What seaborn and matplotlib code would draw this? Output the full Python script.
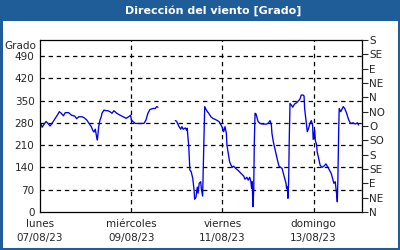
import numpy as np
import pandas as pd
import matplotlib
matplotlib.use("Agg")
import matplotlib.pyplot as plt
from matplotlib.patches import Rectangle
import seaborn as sns

# ---- data (hours since 07/08/23 00:00, wind direction in degrees) ----
seg1_hours = [0.4, 1.1, 2.1, 3.2, 4.2, 5.3, 6.3, 7.7, 9.1, 10.2, 11.2, 12.3, 13.3, 15.1, 16.5,
              18.3, 19.3, 20.4, 22.1, 23.2, 24.6, 25.6, 27.0, 27.7, 28.4, 29.1, 29.8, 30.2,
              30.9, 31.6, 32.3, 32.6, 33.7, 34.7, 35.8, 36.8, 37.9, 38.9, 40.4, 42.1, 43.8,
              45.3, 46.7, 47.7, 48.1, 49.1, 50.2, 52.6, 54.7, 55.8, 56.8, 57.9, 59.6, 60.7,
              61.4, 62.1]
seg1_values = [278, 266, 275, 284, 278, 270, 278, 291, 304, 315, 310, 302, 312, 312, 304,
               301, 293, 299, 299, 296, 289, 280, 268, 257, 251, 260, 236, 226,
               268, 289, 300, 310, 320, 318, 318, 315, 310, 318, 310, 304, 299,
               294, 299, 304, 289, 283, 278, 278, 278, 289, 310, 322, 325, 325,
               331, 329]

seg2_hours = [71.2, 71.9, 73.0, 74.1, 74.7, 75.4, 76.5, 77.2, 77.5, 78.3, 78.9, 79.6, 80.4,
              81.1, 81.4, 82.1, 82.8, 83.2, 83.8, 84.6, 84.9, 85.6, 85.9, 86.3, 86.7, 87.4,
              88.1, 88.8, 90.0, 91.0, 92.8, 94.2, 95.3, 95.9, 96.7, 97.4, 98.1, 98.4, 99.1,
              99.8, 100.5, 101.2, 101.9, 103.0, 104.4, 105.8, 107.2, 107.9, 108.9, 109.6,
              110.4, 111.0, 111.4, 111.7, 112.1, 112.5, 112.8, 113.2, 113.7, 114.8, 115.8,
              117.5, 119.3, 120.3, 121.1, 121.8, 122.1, 122.8, 124.0, 125.0, 125.8, 126.7,
              127.4, 128.1, 128.8, 129.5, 129.8, 130.2, 130.5, 130.9, 131.2, 131.6, 132.3,
              133.0, 134.0, 135.1, 136.2, 136.8, 137.5, 138.6, 139.0, 139.3, 140.0, 140.7,
              141.4, 142.1, 142.8, 143.5, 143.8, 144.6, 144.9, 145.6, 145.9, 146.7, 147.4,
              148.4, 149.5, 150.5, 151.6, 152.3, 153.3, 154.1, 154.7, 155.4, 155.8, 156.2,
              156.5, 156.8, 157.2, 157.5, 158.3, 158.9, 159.6, 160.4, 161.4, 162.5, 163.5,
              164.9, 165.9, 167.0, 167.7]
seg2_values = [287, 285, 270, 260, 268, 260, 264, 257, 263, 205, 132, 126, 106,
               69, 40, 46, 78, 59, 90, 95, 74, 50, 126, 216, 331, 322,
               315, 310, 299, 294, 289, 284, 273, 266, 252, 268, 247, 210, 184,
               158, 148, 140, 144, 137, 130, 121, 113, 103, 109, 100,
               109, 95, 74, 95, 17, 69, 216, 310, 308, 284, 278,
               276, 276, 280, 287, 273, 247, 221, 189, 163, 144, 140,
               137, 121, 106, 90, 74, 79, 43, 100, 226, 341, 336,
               329, 339, 343, 350, 354, 367, 367, 364, 325, 289, 252,
               263, 278, 287, 273, 228, 257, 226, 210, 189, 168, 148,
               140, 144, 151, 140, 132, 121, 103, 90, 95, 74, 53,
               32, 100, 247, 325, 315, 322, 331, 325, 310, 289, 278,
               280, 276, 280, 273]

left_ticks = [0, 70, 140, 210, 280, 350, 420, 490]
right_ticks = [0, 45, 90, 135, 180, 225, 270, 315, 360, 405, 450, 495, 540]
right_labels = ["N", "NE", "E", "SE", "S", "SO", "O", "NO", "N", "NE", "E", "SE", "S"]
day_hours = [0, 48, 96, 144]
day_labels = ["lunes\n07/08/23", "miércoles\n09/08/23", "viernes\n11/08/23", "domingo\n13/08/23"]
minor_hours = [24, 72, 120]
title = "Dirección del viento [Grado]"
y_label = "Grado"

df = pd.DataFrame({
    "hours": seg1_hours + seg2_hours,
    "value": seg1_values + seg2_values,
    "seg": [1] * len(seg1_hours) + [2] * len(seg2_hours),
})

# ---- figure ----
sns.set_style("white")
plt.rcParams["font.family"] = ["DejaVu Sans"]
border = "#1f5d99"
fig = plt.figure(figsize=(4, 2.5), dpi=100, facecolor="white")
fig.patches.append(Rectangle((0, 0.916), 1, 0.084, transform=fig.transFigure,
                             facecolor=border, edgecolor="none", zorder=0))
fig.patches.append(Rectangle((0.002, 0.004), 0.995, 0.99, transform=fig.transFigure,
                             facecolor="none", edgecolor=border, linewidth=2.2, zorder=0))
fig.text(0.533, 0.958, title, color="white", fontsize=8, fontweight="bold",
         ha="center", va="center")

ax = fig.add_axes([0.1, 0.152, 0.805, 0.688])
sns.lineplot(data=df, x="hours", y="value", units="seg", estimator=None,
             color="#0000ee", linewidth=0.95, ax=ax, legend=False)

ax.set_xlim(0, 169.5)
ax.set_ylim(0, 540)
ax.set_xlabel("")
ax.set_ylabel("")
ax.set_yticks(left_ticks)
ax.set_yticklabels([str(t) for t in left_ticks], fontsize=7.5)
ax.set_xticks(day_hours)
ax.set_xticklabels(day_labels, fontsize=7.5, linespacing=1.55)
ax.set_xticks(minor_hours, minor=True)
ax.tick_params(axis="y", length=0, pad=4)
ax.tick_params(axis="x", which="major", length=4, direction="inout", pad=3)
ax.tick_params(axis="x", which="minor", length=4, direction="inout")
for v in left_ticks[1:]:
    ax.axhline(v, color="black", linestyle=(0, (3.5, 3)), linewidth=0.9, zorder=1)
for h in day_hours[1:]:
    ax.axvline(h, color="black", linestyle=(0, (3.5, 3)), linewidth=0.9, zorder=1)
for s in ax.spines.values():
    s.set_color("black")
    s.set_linewidth(0.9)
ax.text(-0.012, 522, y_label, transform=ax.get_yaxis_transform(), ha="right",
        va="center", fontsize=7.5)

ax2 = ax.twinx()
ax2.set_ylim(0, 540)
ax2.set_yticks(right_ticks)
ax2.set_yticklabels(right_labels, fontsize=7.5)
ax2.tick_params(axis="y", length=4, direction="out", pad=1)
for s in ax2.spines.values():
    s.set_visible(False)

fig.savefig("out.png", dpi=100, facecolor="white")
